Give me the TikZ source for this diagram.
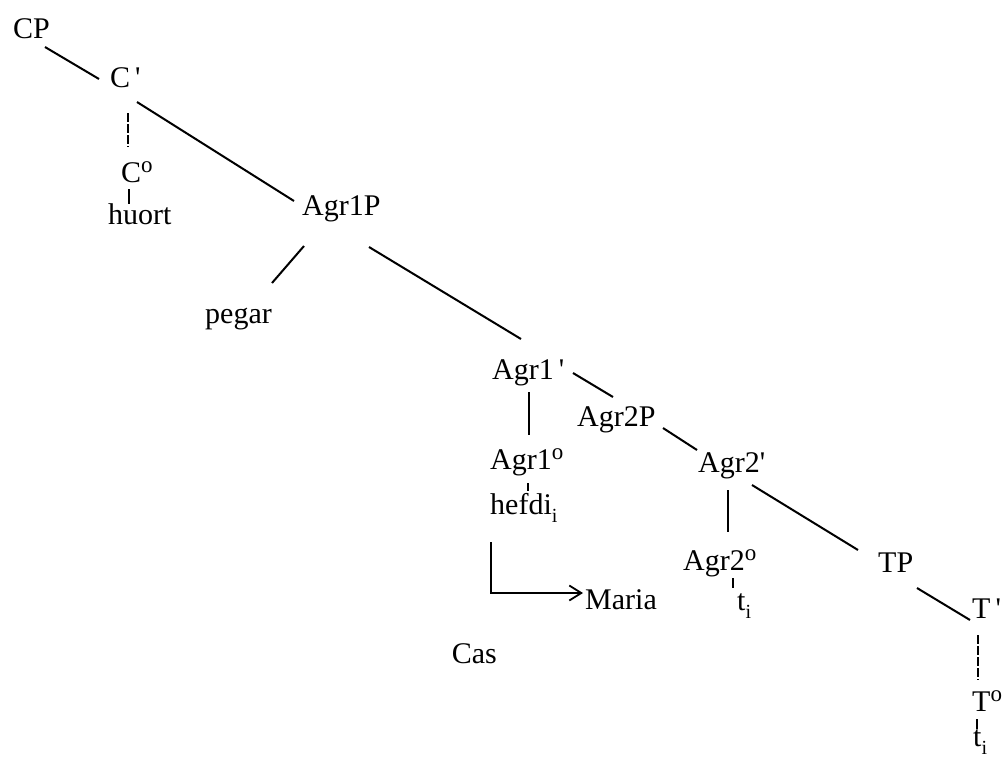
\documentclass[tikz,border=0pt]{standalone}
\usepackage{fontspec}
\setmainfont{Liberation Serif}
\usetikzlibrary{arrows.meta}
\newcommand{\supo}{\raisebox{10pt}{\fontsize{23}{23}\selectfont o}}
\newcommand{\subi}{\raisebox{-8pt}{\fontsize{20}{20}\selectfont i}}
\newcommand{\prm}{\textquotesingle}

\begin{document}
\begin{tikzpicture}[x=1pt, y=-1pt,
    every node/.style={font=\fontsize{30}{34}\selectfont, inner sep=0pt, anchor=base west},
    branch/.style={line width=2pt},
    brokenline/.style={line width=2pt, dash pattern=on 9pt off 2pt},
    tick/.style={line width=1.3pt}]
  \useasboundingbox (0,0) rectangle (1003,761);

  % labels of the tree
  \node (cp) at (13,38) {CP};
  \node (cbar) at (110,87) {C\,\prm};
  \node (czero) at (121,182) {C\supo};
  \node (huort) at (108,224) {huort};
  \node (agrOneP) at (302,215) {Agr1P};
  \node[anchor=base east] (pegar) at (272,323) {pegar};
  \node (agrOneBar) at (492,379) {Agr1\,\prm};
  \node (agrTwoP) at (577,426) {Agr2P};
  \node (agrOneZero) at (490,469) {Agr1\supo};
  \node (hefdi) at (490,514) {hefdi\subi};
  \node (agrTwoBar) at (698,472) {Agr2\prm};
  \node (agrTwoZero) at (683,570) {Agr2\supo};
  \node (tiA) at (737,610) {t\subi};
  \node (maria) at (585,609) {Maria};
  \node[anchor=base east] (cas) at (497,663) {Cas};
  \node (tp) at (878,572) {TP};
  \node (tbar) at (972,618) {T\,\prm};
  \node (tzero) at (972,711) {T\supo};
  \node (tiB) at (973,746) {t\subi};

  % branches
  \draw[branch] ([shift={(32,9)}]cp.base west) -- ([shift={(-11,-8)}]cbar.base west);
  \draw[brokenline] ([shift={(18,26)}]cbar.base west) -- ([shift={(7,-35)}]czero.base west);
  \draw[branch] ([shift={(27,15)}]cbar.base west) -- ([shift={(-8,-14)}]agrOneP.base west);
  \draw[tick] ([shift={(8,7)}]czero.base west) -- ([shift={(21,-20)}]huort.base west);
  \draw[branch] ([shift={(2,31)}]agrOneP.base west) -- ([shift={(0,-40)}]pegar.base east);
  \draw[branch] ([shift={(67,32)}]agrOneP.base west) -- ([shift={(29,-40)}]agrOneBar.base west);
  \draw[branch] ([shift={(37,13)}]agrOneBar.base west) -- ([shift={(39,-34)}]agrOneZero.base west);
  \draw[branch] ([shift={(81,-6)}]agrOneBar.base west) -- ([shift={(36,-29)}]agrTwoP.base west);
  \draw[tick] ([shift={(38,14)}]agrOneZero.base west) -- ([shift={(38,-23)}]hefdi.base west);
  \draw[branch] ([shift={(86,2)}]agrTwoP.base west) -- ([shift={(-1,-22)}]agrTwoBar.base west);
  \draw[branch] ([shift={(30,18)}]agrTwoBar.base west) -- ([shift={(45,-38)}]agrTwoZero.base west);
  \draw[tick] ([shift={(50,8)}]agrTwoZero.base west) -- ([shift={(-4,-22)}]tiA.base west);
  \draw[branch] ([shift={(54,13)}]agrTwoBar.base west) -- ([shift={(-20,-22)}]tp.base west);
  \draw[branch] ([shift={(39,16)}]tp.base west) -- ([shift={(-2,2)}]tbar.base west);
  \draw[brokenline] ([shift={(6,17)}]tbar.base west) -- ([shift={(6,-31)}]tzero.base west);
  \draw[tick] ([shift={(5,8)}]tzero.base west) -- ([shift={(4,-17)}]tiB.base west);

  % case arrow
  \draw[line width=1.8pt, -{Straight Barb[length=12pt, width=15pt]}]
    ([shift={(1,28)}]hefdi.base west) |- ([shift={(-2,-16)}]maria.base west);
\end{tikzpicture}
\end{document}
